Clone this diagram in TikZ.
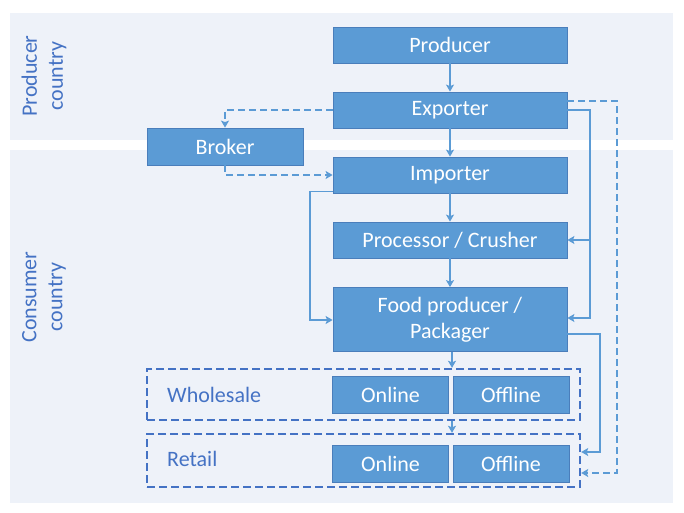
\documentclass[tikz,border=0pt]{standalone}
\usepackage{fontspec}
\setmainfont{Carlito}
\usetikzlibrary{arrows.meta,calc}
\definecolor{boxfill}{HTML}{5B9BD5}
\definecolor{boxline}{HTML}{4A7EBB}
\definecolor{connc}{HTML}{5B9BD5}
\definecolor{framec}{HTML}{4472C4}
\definecolor{panelc}{HTML}{EEF2F9}
\begin{document}
\begin{tikzpicture}[x=1pt,y=-1pt,
  box/.style={draw=boxline, line width=0.8pt, fill=boxfill, text=white,
    font=\fontsize{22}{26}\selectfont, align=center, inner sep=0pt},
  conn/.style={draw=connc, line width=1.8pt, -{Stealth[length=7pt,width=8pt,inset=1.5pt]}},
  dconn/.style={conn, dash pattern=on 7pt off 4pt},
  framebox/.style={draw=framec, line width=2.4pt, dash pattern=on 8pt off 4pt, inner sep=0pt},
  lbl/.style={text=framec, font=\fontsize{22}{26}\selectfont, align=center, inner sep=0pt}]
\useasboundingbox (0,0) rectangle (684,513);
% panels
\fill[panelc] (10,13) rectangle (673,140);
\fill[panelc] (10,150) rectangle (673,503);
\node[lbl, rotate=90] (plabel) at (44,76) {Producer\\country};
\node[lbl, rotate=90] (clabel) at (44,297) {Consumer\\country};
% boxes
\node[box, minimum width=234pt, minimum height=36pt] (producer) at (450,45) {Producer};
\node[box, minimum width=234pt, minimum height=36pt] (exporter) at (450,110) {Exporter};
\node[box, minimum width=156pt, minimum height=37pt] (broker) at (225,146.5) {Broker};
\node[box, minimum width=234pt, minimum height=36pt] (importer) at (450,175) {Importer};
\node[box, minimum width=234pt, minimum height=36pt] (processor) at (450,240) {Processor / Crusher};
\node[box, minimum width=234pt, minimum height=64pt] (food) at (450,319.5) {Food producer /\\Packager};
% wholesale
\node[framebox, minimum width=433pt, minimum height=51pt] (wholesale) at (363.5,394.5) {};
\node[lbl, anchor=west] (wlabel) at (167,395) {Wholesale};
\node[box, minimum width=116pt, minimum height=37pt] (won) at (390.5,394.5) {Online};
\node[box, minimum width=116pt, minimum height=37pt] (woff) at (511,394.5) {Offline};
% retail
\node[framebox, minimum width=433pt, minimum height=53pt] (retail) at (363.5,460.5) {};
\node[lbl, anchor=west] (rlabel) at (167,459) {Retail};
\node[box, minimum width=116pt, minimum height=37pt] (ron) at (390.5,464) {Online};
\node[box, minimum width=116pt, minimum height=37pt] (roff) at (511,463.5) {Offline};
% coordinates
\coordinate (rj) at (590,318);
\coordinate (fj) at (600,452);
\coordinate (dj) at (617,473);
\coordinate (lj) at (310,320);
\coordinate (vj) at (452,0);
% main chain
\draw[conn] (producer) -- (exporter);
\draw[conn] (exporter) -- (importer);
\draw[conn] (importer) -- (processor);
\draw[conn] (processor) -- (food);
\draw[conn] (food.south -| vj) -- (wholesale.north -| vj);
\draw[conn] (wholesale.south -| vj) -- (retail.north -| vj);
% broker
\draw[dconn] (exporter.west) -| (broker.north);
\draw[dconn] (broker.south) |- (importer.west);
% importer to food
\draw[conn] ([yshift=2pt]importer.south west) -| (lj) -- (food.west |- lj);
% exporter to processor / food
\draw[conn] (exporter.east) -| (rj) -- (food.east |- rj);
\draw[conn] (processor.east -| rj) -- (processor.east);
% food to retail
\draw[conn] ([yshift=-14.5pt]food.east) -| (fj) -- (retail.east |- fj);
% exporter to retail dashed
\draw[dconn] ([yshift=9pt]exporter.east) -| (dj) -- (retail.east |- dj);
\end{tikzpicture}
\end{document}
